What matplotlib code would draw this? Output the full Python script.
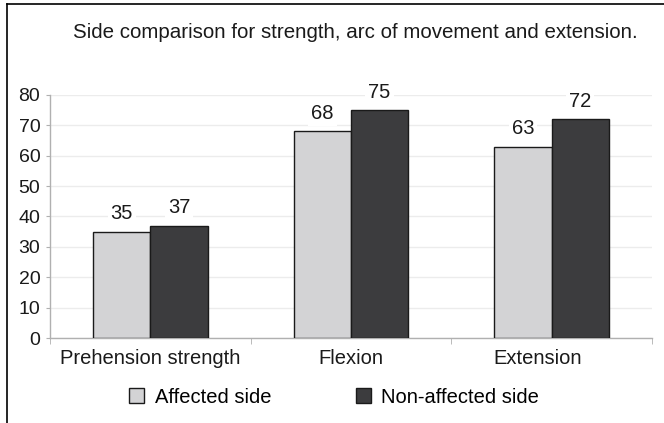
import matplotlib
matplotlib.use("Agg")
import matplotlib.pyplot as plt
import matplotlib.transforms as mtransforms
from matplotlib.lines import Line2D
import numpy as np

plt.rcParams["font.family"] = ["Liberation Sans", "DejaVu Sans"]

categories = ["Prehension strength", "Flexion", "Extension"]
affected = [35, 68, 63]
non_affected = [37, 75, 72]
series_names = ["Affected side", "Non-affected side"]
y_ticks = [0, 10, 20, 30, 40, 50, 60, 70, 80]

fig = plt.figure(figsize=(6.64, 4.23), dpi=100)
ax = fig.add_axes([50 / 664, 1 - 338 / 423, (652 - 50) / 664, (338 - 95) / 423])

x = np.arange(len(categories))
w = 0.285
light = "#d3d3d5"
dark = "#3c3c3e"

b1 = ax.bar(x - w / 2, affected, w, color=light, edgecolor="#1a1a1a", linewidth=1.0,
            label=series_names[0], zorder=3)
b2 = ax.bar(x + w / 2, non_affected, w, color=dark, edgecolor="#1a1a1a", linewidth=1.0,
            label=series_names[1], zorder=3)

for bars, vals in [(b1, affected), (b2, non_affected)]:
    for rect, v in zip(bars, vals):
        ax.annotate(f"{v}", xy=(rect.get_x() + rect.get_width() / 2, v),
                    xytext=(0, 6), textcoords="offset points",
                    ha="center", va="bottom", fontsize=14.5, color="#1a1a1a",
                    bbox=dict(boxstyle="square,pad=0.15", fc="white", ec="none"),
                    zorder=4)

ax.set_xlim(-0.5, 2.5)
ax.set_ylim(0, 80)
ax.set_yticks(y_ticks)
ax.tick_params(axis="y", labelsize=14, length=3, color="#b0b0b0", pad=4,
               labelcolor="#1a1a1a")
ax.set_xticks(x)
ax.set_xticklabels(categories, fontsize=14.5, color="#1a1a1a")
ax.tick_params(axis="x", length=0, pad=8)
# the last category label sits a little left of centre in the original
lbl = ax.get_xticklabels()[2]
lbl.set_transform(lbl.get_transform() + mtransforms.ScaledTranslation(-0.14, 0, fig.dpi_scale_trans))
# boundary ticks on x axis
ax.set_xticks([-0.5, 0.5, 1.5, 2.5], minor=True)
ax.tick_params(axis="x", which="minor", length=4, color="#b0b0b0")

ax.grid(axis="y", color="#ececec", linewidth=1.0, zorder=0)
for s in ["top", "right"]:
    ax.spines[s].set_visible(False)
for s in ["left", "bottom"]:
    ax.spines[s].set_color("#b0b0b0")
    ax.spines[s].set_linewidth(1.0)

fig.text(355 / 664, 1 - 32 / 423, "Side comparison for strength, arc of movement and extension.",
         ha="center", va="center", fontsize=14.8, color="#1a1a1a")

fig.legend(handles=[b1, b2], labels=series_names, loc="center",
           bbox_to_anchor=(334 / 664, 1 - 397 / 423), ncol=2, frameon=False,
           fontsize=14.5, handlelength=0.75, handleheight=0.75, handletextpad=0.5,
           columnspacing=4.2)

# outer frame (top and left)
fig.add_artist(Line2D([7 / 664, 7 / 664], [0, 1 - 4 / 423], color="black", linewidth=1.2,
                      transform=fig.transFigure))
fig.add_artist(Line2D([7 / 664, 1], [1 - 4 / 423, 1 - 4 / 423], color="black", linewidth=1.2,
                      transform=fig.transFigure))

fig.savefig("out.png", dpi=100)
